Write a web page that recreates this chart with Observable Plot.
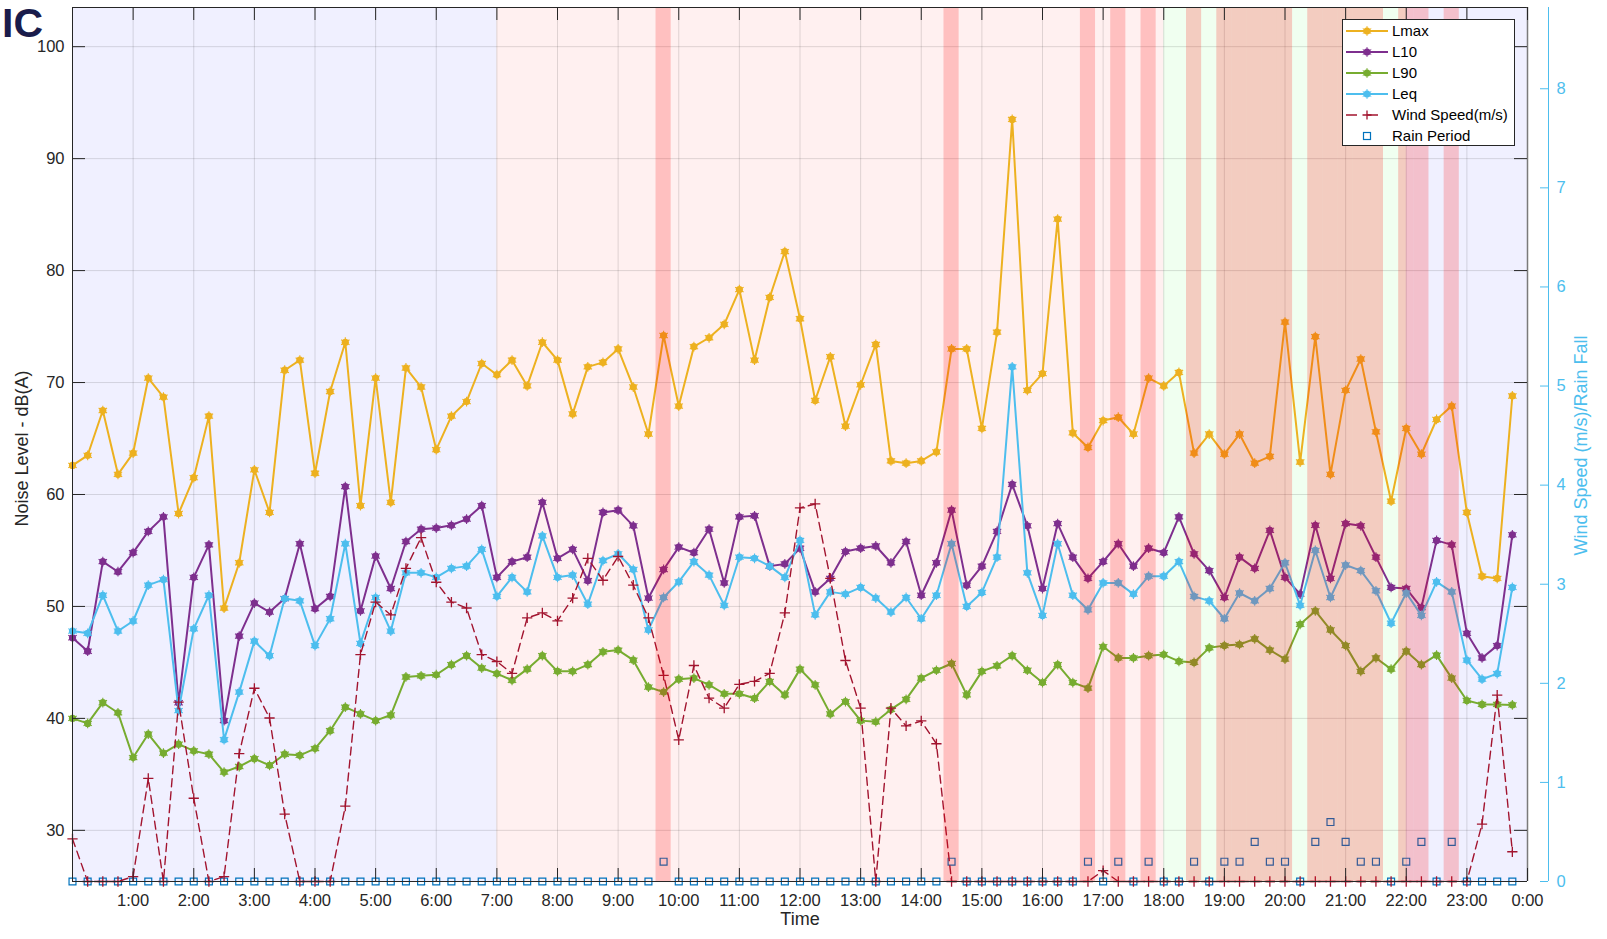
<!DOCTYPE html>
<html>
<head>
<meta charset="utf-8">
<script src="https://cdn.jsdelivr.net/npm/d3@7"></script>
<script src="https://cdn.jsdelivr.net/npm/@observablehq/plot@0.6"></script>
<style>
  html, body { margin: 0; padding: 0; background: #fff; }
  #wrap { position: relative; width: 1607px; height: 939px; overflow: hidden;
          font-family: "Liberation Sans", Arial, Helvetica, sans-serif; }
  #chart { position: absolute; left: 0; top: 0; }
  #logo { position: absolute; left: 0; top: 0; overflow: visible; }
  #legend { position: absolute; left: 1342px; top: 19px; }
</style>
</head>
<body>
<div id="wrap">
  <div id="chart"></div>
  <svg id="logo" width="60" height="60"><text x="2" y="37" font-size="41" font-weight="700"
    font-family="Liberation Sans, Arial, sans-serif" fill="#1a1c4b">IC</text></svg>
  <svg id="legend" width="174" height="128"></svg>
</div>
<script>
// ---------------- data (15-minute intervals, 0:00 .. 23:45) ----------------
const Lmax = [
  62.6, 63.5, 67.5, 61.8,   63.7, 70.4, 68.7, 58.3,   61.5, 67.0, 49.85, 53.9,
  62.2, 58.4, 71.1, 72.0,   61.9, 69.2, 73.6, 59.0,   70.4, 59.3, 71.3, 69.6,
  64.0, 67.0, 68.3, 71.7,   70.7, 72.0, 69.7, 73.6,   72.0, 67.2, 71.4, 71.8,
  73.0, 69.6, 65.4, 74.2,   67.9, 73.2, 74.0, 75.2,   78.3, 72.0, 77.6, 81.7,
  75.7, 68.4, 72.3, 66.1,   69.8, 73.4, 63.0, 62.8,   63.0, 63.8, 73.0, 73.0,
  65.9, 74.5, 93.5, 69.3,   70.8, 84.6, 65.5, 64.2,   66.6, 66.9, 65.4, 70.4,
  69.7, 70.9, 63.7, 65.4,   63.6, 65.4, 62.8, 63.4,   75.4, 62.9, 74.1, 61.8,
  69.3, 72.1, 65.6, 59.4,   65.9, 63.6, 66.7, 67.9,   58.4, 52.7, 52.5, 68.8
];
const L10 = [
  47.2, 46.0, 54.0, 53.1,   54.8, 56.7, 58.0, 41.4,   52.6, 55.5, 39.8, 47.35,
  50.3, 49.5, 50.7, 55.6,   49.8, 50.9, 60.7, 49.6,   54.5, 51.6, 55.8, 56.9,
  57.0, 57.25, 57.8, 59.0,  52.6, 54.0, 54.4, 59.3,   54.3, 55.1, 52.3, 58.4,
  58.6, 57.2, 50.75, 53.3,  55.3, 54.8, 56.9, 52.1,   58.0, 58.1, 53.6, 53.8,
  55.2, 51.3, 52.5, 54.9,   55.2, 55.4, 53.9, 55.8,   51.0, 53.9, 58.6, 51.9,
  53.6, 56.7, 60.9, 57.2,   51.6, 57.4, 54.4, 52.5,   54.0, 55.6, 53.6, 55.2,
  54.8, 58.0, 54.7, 53.2,   50.8, 54.4, 53.4, 56.8,   52.6, 51.1, 57.25, 52.5,
  57.4, 57.2, 54.4, 51.7,   51.6, 49.9, 55.9, 55.5,   47.6, 45.4, 46.5, 56.4
];
const L90 = [
  40.0, 39.55, 41.4, 40.5,  36.5, 38.6, 36.9, 37.7,   37.1, 36.8, 35.2, 35.7,
  36.4, 35.8, 36.8, 36.7,   37.3, 38.9, 41.0, 40.4,   39.8, 40.3, 43.7, 43.8,
  43.9, 44.8, 45.6, 44.5,   44.0, 43.4, 44.4, 45.6,   44.2, 44.2, 44.8, 45.95,
  46.1, 45.2, 42.8, 42.35,  43.5, 43.6, 43.0, 42.2,   42.2, 41.8, 43.3, 42.1,
  44.4, 43.0, 40.4, 41.5,   39.8, 39.7, 40.8, 41.7,   43.6, 44.3, 44.9, 42.1,
  44.2, 44.7, 45.6, 44.3,   43.2, 44.8, 43.2, 42.7,   46.4, 45.4, 45.4, 45.6,
  45.7, 45.1, 45.0, 46.3,   46.5, 46.6, 47.1, 46.1,   45.3, 48.4, 49.6, 47.9,
  46.5, 44.2, 45.4, 44.4,   46.0, 44.8, 45.65, 43.6,  41.6, 41.25, 41.25, 41.2
];
const Leq = [
  47.8, 47.6, 51.0, 47.8,   48.7, 51.9, 52.4, 40.7,   48.0, 51.0, 38.1, 42.35,
  46.9, 45.6, 50.7, 50.5,   46.5, 48.9, 55.6, 46.7,   50.8, 47.8, 53.0, 53.0,
  52.6, 53.4, 53.6, 55.1,   50.9, 52.6, 51.3, 56.3,   52.6, 52.8, 50.2, 54.1,
  54.7, 53.3, 47.9, 50.8,   52.2, 54.0, 52.8, 50.1,   54.4, 54.3, 53.6, 52.6,
  55.9, 49.25, 51.3, 51.1,  51.7, 50.75, 49.5, 50.8,  48.9, 51.0, 55.6, 50.0,
  51.25, 54.4, 71.4, 53.0,  49.2, 55.6, 51.0, 49.7,   52.1, 52.1, 51.1, 52.7,
  52.7, 54.0, 50.9, 50.5,   48.9, 51.2, 50.5, 51.6,   53.9, 50.1, 55.0, 50.8,
  53.7, 53.2, 51.4, 48.5,   51.2, 49.2, 52.2, 51.3,   45.2, 43.5, 44.0, 51.7
];
const windSpeed = [   // m/s (right axis)
  0.43, 0, 0, 0,        0.05, 1.04, 0, 1.81,    0.84, 0, 0.05, 1.29,
  1.95, 1.65, 0.68, 0,  0, 0, 0.76, 2.29,       2.82, 2.69, 3.16, 3.47,
  3.02, 2.82, 2.76, 2.29, 2.22, 2.10, 2.66, 2.71, 2.63, 2.86, 3.26, 3.04,
  3.28, 2.99, 2.66, 2.08, 1.43, 2.18, 1.85, 1.75, 1.99, 2.02, 2.10, 2.71,
  3.77, 3.81, 3.06, 2.23, 1.75, 0, 1.75, 1.57,   1.62, 1.39, 0, 0,
  0, 0, 0, 0,           0, 0, 0, 0,             0.11, 0, 0, 0,
  0, 0, 0, 0,           0, 0, 0, 0,             0, 0, 0, 0,
  0, 0, 0, 0,           0, 0, 0, 0,             0, 0.58, 1.88, 0.30
];
const rainFall = [    // right axis
  0, 0, 0, 0,   0, 0, 0, 0,   0, 0, 0, 0,   0, 0, 0, 0,   0, 0, 0, 0,   0, 0, 0, 0,
  0, 0, 0, 0,   0, 0, 0, 0,   0, 0, 0, 0,   0, 0, 0, 0.2, 0, 0, 0, 0,   0, 0, 0, 0,
  0, 0, 0, 0,   0, 0, 0, 0,   0, 0, 0.2, 0, 0, 0, 0, 0,   0, 0, 0, 0.2, 0, 0.2, 0, 0.2,
  0, 0, 0.2, 0, 0.2, 0.2, 0.4, 0.2, 0.2, 0, 0.4, 0.6, 0.4, 0.2, 0.2, 0, 0.2, 0.4, 0, 0.4,
  0, 0, 0, 0
];
// time periods shading
const periodStart = [0, 7, 18, 22];
const periodEnd   = [7, 18, 22, 24];
const periodKind  = ["Night", "Day", "Evening", "Night"];
const periodColor = {Night: "#0000ff", Day: "#ff0000", Evening: "#00ff00"};
// ticks
const hourTicks = d3.range(1, 25);
const dbTicks = [30, 40, 50, 60, 70, 80, 90, 100];
const rightTicks = [0, 1, 2, 3, 4, 5, 6, 7, 8];

const seriesNames  = ["Lmax", "L10", "L90", "Leq"];
const seriesColors = ["#EDB120", "#7E2F8E", "#77AC30", "#4DBEEE"];
const windColor = "#A2142F", rainColor = "#0072BD", rightColor = "#4DBEEE";

// ---------------- scales / layout ----------------
const W = 1607, H = 939, mL = 72, mR = 80, mT = 7, mB = 58;
const yMin = 25.43, yMax = 103.5, rMax = 8.82;
const toLeft = w => yMin + w * (yMax - yMin) / rMax;
const pxH = (W - mL - mR) / 24;
const pxDb = (H - mT - mB) / (yMax - yMin);
const step = 0.25;

const rows = Lmax.map((_, i) => ({
  t: i * step, Lmax: Lmax[i], L10: L10[i], L90: L90[i], Leq: Leq[i],
  wind: windSpeed[i], rain: rainFall[i]
}));
const periods = periodStart.map((s, i) => ({start: s, end: periodEnd[i], kind: periodKind[i]}));
const rainy = rows.filter(d => d.rain > 0);

const seriesMarks = seriesNames.flatMap((k, j) => [
  Plot.line(rows, {x: "t", y: k, stroke: seriesColors[j], strokeWidth: 2}),
  Plot.dot(rows, {x: "t", y: k, fill: seriesColors[j], r: 3.6}),
  Plot.dot(rows, {x: "t", y: k, symbol: "asterisk", stroke: seriesColors[j], r: 4.6, strokeWidth: 1.1})
]);

const chart = Plot.plot({
  width: W, height: H,
  marginLeft: mL, marginRight: mR, marginTop: mT, marginBottom: mB,
  style: {fontFamily: "Liberation Sans, Arial, Helvetica, sans-serif", fontSize: "16.5px", background: "white", overflow: "visible"},
  x: {domain: [0, 24], axis: null},
  y: {domain: [yMin, yMax], axis: null},
  marks: [
    Plot.rect(periods, {x1: "start", x2: "end", y1: yMin, y2: yMax,
      fill: d => periodColor[d.kind], fillOpacity: 0.06}),
    Plot.ruleX(d3.range(1, 24), {stroke: "#262626", strokeOpacity: 0.15}),
    Plot.ruleY(dbTicks, {stroke: "#262626", strokeOpacity: 0.15}),
    ...seriesMarks,
    Plot.dot(rows, {x: "t", y: d => toLeft(d.rain), symbol: "square", r: 3.9,
      stroke: rainColor, fill: "none", strokeWidth: 1.2}),
    Plot.line(rows, {x: "t", y: d => toLeft(d.wind), stroke: windColor, strokeWidth: 1.4, strokeDasharray: "8,5"}),
    Plot.dot(rows, {x: "t", y: d => toLeft(d.wind), symbol: "plus", r: 3.4, stroke: windColor, strokeWidth: 1.3}),
    Plot.rect(rainy, {x1: d => d.t - step / 2, x2: d => d.t + step / 2, y1: yMin, y2: yMax,
      fill: "#ff0000", fillOpacity: 0.2}),
    // box
    Plot.ruleX([0], {stroke: "#262626"}),
    Plot.ruleY([yMin], {stroke: "#262626"}),
    Plot.ruleY([yMax], {stroke: "#262626"}),
    Plot.ruleX([24], {stroke: "#7a7a7a", strokeWidth: 1.5}),
    // inward ticks
    Plot.ruleX(hourTicks, {y1: yMin, y2: yMin + 13 / pxDb, stroke: "#262626"}),
    Plot.ruleX(hourTicks, {y1: yMax - 13 / pxDb, y2: yMax, stroke: "#262626"}),
    Plot.ruleY(dbTicks, {x1: 0, x2: 13 / pxH, stroke: "#262626"}),
    Plot.ruleY(dbTicks, {x1: 24 - 13 / pxH, x2: 24, stroke: "#262626"}),
    // right axis
    Plot.ruleX([24 + 21 / pxH], {stroke: rightColor}),
    Plot.ruleY(rightTicks, {y: d => toLeft(d), x1: 24 + 13 / pxH, x2: 24 + 21 / pxH, stroke: rightColor}),
    Plot.text(rightTicks, {x: 24, y: d => toLeft(d), dx: 29, text: d => String(d),
      textAnchor: "start", fill: rightColor, fontSize: 16.5}),
    // axes labels
    Plot.axisX(hourTicks, {tickSize: 0, tickPadding: 13, tickFormat: d => `${d % 24}:00`,
      label: null, color: "#262626", fontSize: 16.5}),
    Plot.axisY(dbTicks, {tickSize: 0, tickPadding: 8, label: null, color: "#262626", fontSize: 16.5}),
    Plot.text(["Time"], {text: d => d, frameAnchor: "bottom", dy: 43, fontSize: 18, fill: "#262626"}),
    Plot.text(["Noise Level - dB(A)"], {text: d => d, frameAnchor: "left", dx: -50, dy: 4, rotate: -90,
      textAnchor: "middle", fontSize: 18, fill: "#262626"}),
    Plot.text(["Wind Speed (m/s)/Rain Fall"], {text: d => d, frameAnchor: "right", dx: 54, dy: 1, rotate: -90,
      textAnchor: "middle", fontSize: 18, fill: rightColor})
  ]
});
document.getElementById("chart").appendChild(chart);

// ---------------- legend ----------------
const legendItems = [
  ...seriesNames.map((n, j) => ({name: n, color: seriesColors[j], kind: "line"})),
  {name: "Wind Speed(m/s)", color: windColor, kind: "wind"},
  {name: "Rain Period", color: rainColor, kind: "rain"}
];
const lg = d3.select("#legend");
lg.append("rect").attr("x", 0.5).attr("y", 0.5).attr("width", 172).attr("height", 126)
  .attr("fill", "#fff").attr("stroke", "#262626");
legendItems.forEach((it, i) => {
  const cy = 12 + i * 21;
  const g = lg.append("g");
  if (it.kind === "line") {
    g.append("line").attr("x1", 4).attr("x2", 46).attr("y1", cy).attr("y2", cy)
      .attr("stroke", it.color).attr("stroke-width", 2);
    g.append("circle").attr("cx", 25).attr("cy", cy).attr("r", 3.6).attr("fill", it.color);
    g.append("path").attr("d", d3.symbol(d3.symbolAsterisk, Math.PI * 4.6 * 4.6)())
      .attr("transform", `translate(25,${cy})`).attr("stroke", it.color).attr("fill", "none");
  } else if (it.kind === "wind") {
    g.append("line").attr("x1", 4).attr("x2", 46).attr("y1", cy).attr("y2", cy)
      .attr("stroke", it.color).attr("stroke-width", 1.3).attr("stroke-dasharray", "11,10");
    g.append("path").attr("d", "M-4.5,0H4.5M0,-4.5V4.5").attr("transform", `translate(25,${cy})`)
      .attr("stroke", it.color).attr("stroke-width", 1.3);
  } else {
    g.append("rect").attr("x", 21.5).attr("y", cy - 3.5).attr("width", 7).attr("height", 7)
      .attr("fill", "none").attr("stroke", it.color).attr("stroke-width", 1.2);
  }
  g.append("text").attr("x", 50).attr("y", cy).attr("dy", "0.35em")
    .attr("font-size", 15).attr("fill", "#000").text(it.name);
});
</script>
</body>
</html>
